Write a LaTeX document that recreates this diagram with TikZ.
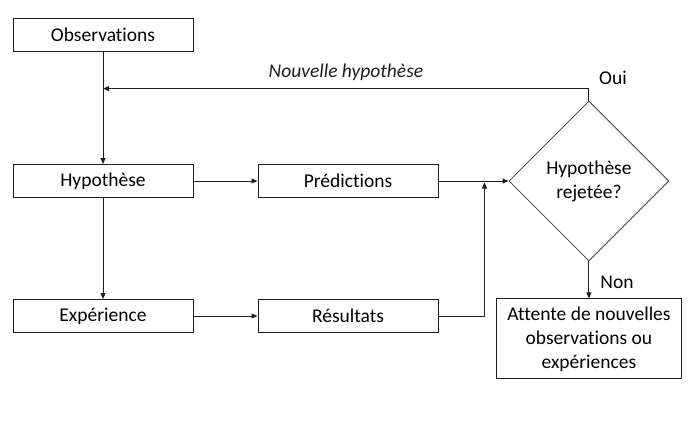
\documentclass[tikz,border=0pt]{standalone}
\usepackage{fontspec}
\setmainfont[Ligatures={NoCommon}]{Carlito}
\usetikzlibrary{shapes.geometric, arrows.meta, positioning, calc}
\definecolor{FlowLine}{HTML}{1E1E1E}
\definecolor{FlowGrey}{HTML}{404040}

\begin{document}
\begin{tikzpicture}[x=1pt, y=-1pt, >={Triangle[length=6pt, width=5pt]},
        font=\fontsize{19.5}{24}\selectfont,
        box/.style={rectangle, draw=FlowLine, line width=1pt, fill=white, minimum width=180pt, minimum height=33pt, inner sep=2pt},
        decision/.style={diamond, draw=FlowGrey, line width=0.8pt, minimum width=160pt, minimum height=160pt, inner sep=0pt, align=center},
        lbl/.style={inner sep=1pt},
        arrow/.style={->, line width=1pt, FlowLine},
        link/.style={line width=1pt, FlowLine}]

        \useasboundingbox (0,0) rectangle (700,431);

        \node[box] (obs) at (103,35) {Observations};
        \node[box, below=112pt of obs] (hyp) {Hypothèse};
        \node[box, right=64pt of hyp] (pred) {Prédictions};
        \node[box, below=101pt of hyp] (exp) {Expérience};
        \node[box, right=64pt of exp] (res) {Résultats};
        \node[decision, right=70pt of pred] (dia) {Hypothèse\\rejetée?};
        \node[box, below=37pt of dia, minimum width=185pt, minimum height=80pt, align=center] (att) {Attente de nouvelles\\observations ou\\expériences};

        \coordinate (fb) at ($(dia.north)+(0,12pt)$);
        \coordinate (mid) at ($(pred.east)+(46pt,0)$);

        \draw[arrow] (obs) -- (hyp);
        \draw[arrow] (hyp) -- (pred);
        \draw[arrow] (hyp) -- (exp);
        \draw[arrow] (exp) -- (res);
        \draw[arrow] (pred) -- (dia);
        \draw[arrow] (res.east) -| ([yshift=-1.5pt]mid);
        \draw[arrow] (dia.north) -- (fb) -- (fb -| obs.south)
            node[lbl, midway, above=6pt, font=\fontsize{19.5}{24}\selectfont\itshape] (nh) {Nouvelle hypothèse};
        \draw[arrow] (dia) -- (att);

        \node[lbl] (oui) at (613,78) {Oui};
        \node[lbl] (non) at (617,282) {Non};
    \end{tikzpicture}
\end{document}
